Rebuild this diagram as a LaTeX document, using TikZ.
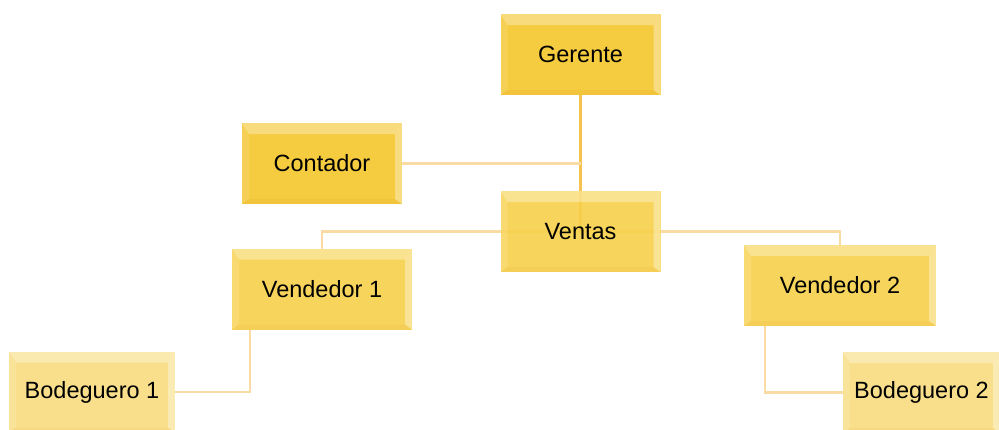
\documentclass[tikz,border=0pt]{standalone}
\usepackage{fontspec}
\setmainfont{Liberation Sans}
\definecolor{goldA}{HTML}{F4C52A}
\definecolor{goldB}{HTML}{F6D04A}
\definecolor{goldC}{HTML}{F8DC7E}
\definecolor{lineA}{HTML}{F7C250}
\definecolor{lineB}{HTML}{FBDBA4}
\tikzset{
  box/.style={rectangle, fill=#1, fill opacity=.9, text opacity=1,
    minimum width=160pt, minimum height=81pt, inner sep=0pt,
    font=\fontsize{23.5}{27}\selectfont,
    path picture={
      \coordinate (nw) at (path picture bounding box.north west);
      \coordinate (ne) at (path picture bounding box.north east);
      \coordinate (sw) at (path picture bounding box.south west);
      \coordinate (se) at (path picture bounding box.south east);
      % top bevel
      \fill[white,opacity=.32] (nw) -- (ne) -- ([xshift=-7pt,yshift=-11pt]ne) -- ([xshift=7pt,yshift=-11pt]nw) -- cycle;
      % left bevel
      \fill[white,opacity=.12] (nw) -- ([xshift=7pt,yshift=-11pt]nw) -- ([xshift=7pt,yshift=5pt]sw) -- (sw) -- cycle;
      % right bevel
      \fill[white,opacity=.35] (ne) -- ([xshift=-7pt,yshift=-11pt]ne) -- ([xshift=-7pt,yshift=5pt]se) -- (se) -- cycle;
      % bottom bevel
      \fill[black!20!orange,opacity=.06] (sw) -- ([xshift=7pt,yshift=5pt]sw) -- ([xshift=-7pt,yshift=5pt]se) -- (se) -- cycle;
    }},
  conn/.style={draw=lineB, line width=2.2pt},
  mainconn/.style={draw=lineA, line width=3pt}
}
\begin{document}
\begin{tikzpicture}[x=1pt,y=-1pt]
\useasboundingbox (0,0) rectangle (999,429);

% node placement
\path
  (580.5,54.5)  coordinate (pger)
  (322,163.5)   coordinate (pcon)
  (580.5,231.5) coordinate (pven)
  (322,289)     coordinate (pv1)
  (840,285.5)   coordinate (pv2)
  (92,392)      coordinate (pb1)
  (921.5,392.5) coordinate (pb2);

% connectors (drawn first, boxes sit on top)
\coordinate (ventc) at (pven);
\draw[conn] (pv1) ++(0,-40) coordinate (v1top) |- (ventc) -| ([yshift=40pt]pv2) coordinate (v2top);
\draw[mainconn] ([yshift=-40pt]pger) coordinate (gbot) -- (pger |- ventc);
\draw[conn] ([xshift=80pt]pcon) coordinate (cright) -- (cright -| pger);

\node[box=goldA] (ger) at (pger) {Gerente};
\node[box=goldA] (con) at (pcon) {Contador};
\node[box=goldB] (ven) at (pven) {Ventas};
\node[box=goldB, minimum width=180pt] (v1) at (pv1) {Vendedor 1};
\node[box=goldB, minimum width=192pt] (v2) at (pv2) {Vendedor 2};
\node[box=goldC, minimum width=166pt] (b1) at (pb1) {Bodeguero 1};
\node[box=goldC, minimum width=157pt] (b2) at (pb2) {Bodeguero 2};

% lower branches
\draw[conn] ([xshift=18pt]v1.south west) |- (b1.east);
\draw[conn] ([xshift=21pt]v2.south west) |- (b2.west);
\end{tikzpicture}
\end{document}
